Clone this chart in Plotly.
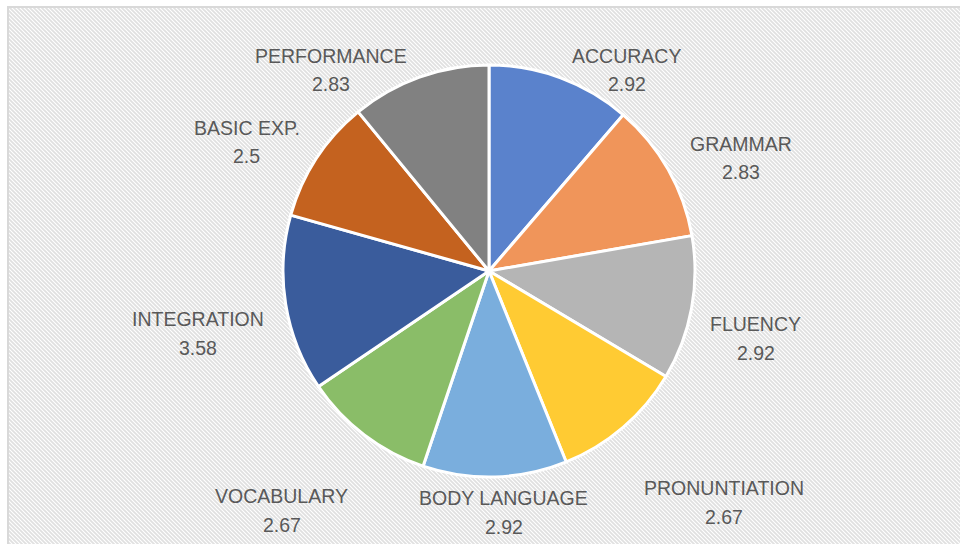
import plotly.graph_objects as go
import urllib.parse

categories = ["ACCURACY", "GRAMMAR", "FLUENCY", "PRONUNTIATION", "BODY LANGUAGE",
              "VOCABULARY", "INTEGRATION", "BASIC EXP.", "PERFORMANCE"]
scores = [2.92, 2.83, 2.92, 2.67, 2.92, 2.67, 3.58, 2.5, 2.83]
slice_colors = ["#5A82CC", "#F0955A", "#B5B5B5", "#FFCB33", "#7AAEDD",
                "#8ABD68", "#3A5C9C", "#C4621F", "#818181"]

W, H = 960, 544
cx, cy, r = 489, 271, 206

# data-label placement (pixel centre of the category line, Excel "best fit" layout)
label_centers = [(626.5, 56), (741, 143.5), (755.5, 324), (724, 488), (503.5, 498),
                 (281.7, 496), (198.3, 319), (246.5, 127.5), (330.8, 55.5)]
line_gap = 28.5

svg = (
    "<svg xmlns='http://www.w3.org/2000/svg' width='960' height='544'>"
    "<defs><pattern id='p' width='4' height='4' patternUnits='userSpaceOnUse'>"
    "<path d='M-1,3 l2,2 M0,0 l4,4 M3,-1 l2,2' stroke='#e0e0e0' stroke-width='1.8'/>"
    "</pattern></defs>"
    "<rect width='960' height='544' fill='white'/>"
    "<rect width='960' height='544' fill='url(#p)'/></svg>"
)
bg = "data:image/svg+xml;charset=utf-8," + urllib.parse.quote(svg)

fig = go.Figure(go.Pie(
    labels=categories,
    values=scores,
    sort=False,
    direction="clockwise",
    rotation=0,
    marker=dict(colors=slice_colors, line=dict(color="white", width=3)),
    textinfo="none",
    showlegend=False,
    hoverinfo="label+value",
    domain=dict(x=[(cx - r) / W, (cx + r) / W], y=[(H - cy - r) / H, (H - cy + r) / H]),
))

font = dict(family="Liberation Sans, Arial, sans-serif", size=19.5, color="#595959")
annotations = []
for name, val, (lx, ly) in zip(categories, scores, label_centers):
    annotations.append(dict(text=name, x=lx / W, y=1 - ly / H, xref="paper", yref="paper",
                            xanchor="center", yanchor="middle", showarrow=False, font=font))
    annotations.append(dict(text=f"{val:g}", x=lx / W, y=1 - (ly + line_gap) / H,
                            xref="paper", yref="paper", xanchor="center", yanchor="middle",
                            showarrow=False, font=font))

fig.update_layout(
    width=W, height=H,
    margin=dict(l=0, r=0, t=0, b=0),
    paper_bgcolor="white",
    annotations=annotations,
    images=[dict(source=bg, xref="paper", yref="paper", x=9 / W, y=1 - 7 / H,
                 sizex=1, sizey=1, sizing="stretch", xanchor="left", yanchor="top",
                 layer="below")],
    shapes=[dict(type="rect", xref="paper", yref="paper",
                 x0=8 / W, x1=1.05, y0=-0.05, y1=1 - 7 / H,
                 line=dict(color="#d9d9d9", width=2), fillcolor="rgba(0,0,0,0)")],
)

fig.write_html("out.html", config={"displayModeBar": False},
               post_script="document.body.style.margin='0';")
